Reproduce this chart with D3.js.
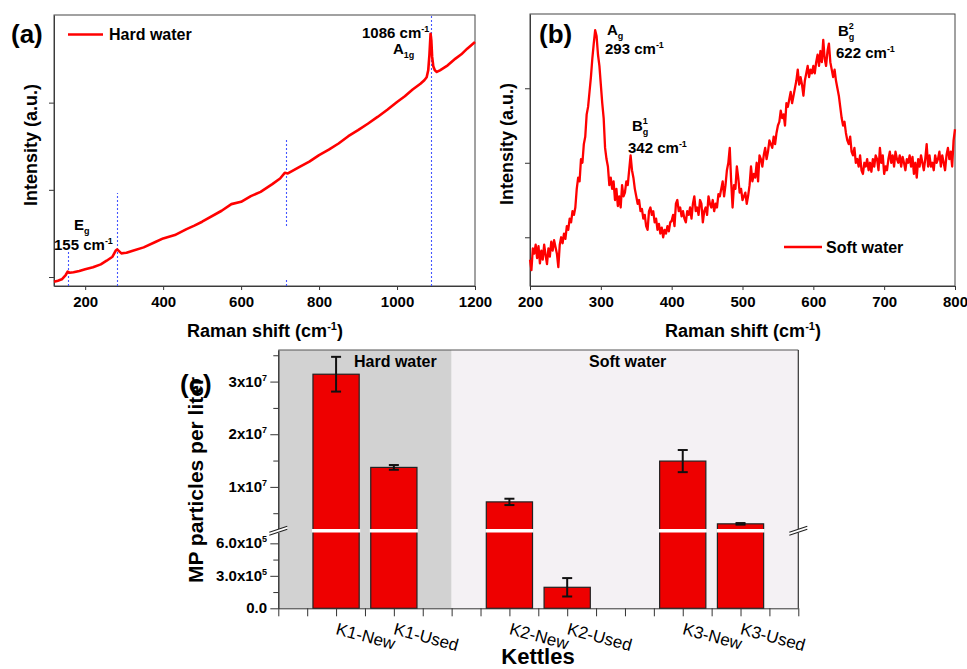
<!DOCTYPE html>
<html>
<head>
<meta charset="utf-8">
<script src="https://cdn.jsdelivr.net/npm/d3@7"></script>
<style>
body { margin: 0; background: #fff; }
svg { font-family: "Liberation Sans", Arial, sans-serif; font-weight: bold; }
</style>
</head>
<body>
<svg id="fig" width="967" height="669"></svg>
<script>
// ---- data: (a) hard water Raman spectrum
var shiftA = [120, 130, 140, 150, 155, 160, 170, 185, 200, 220, 240, 255, 270, 278, 282, 293, 300, 306, 320, 350, 380, 400, 430, 460, 480, 500, 550, 575, 600, 625, 650, 680, 700, 712, 720, 750, 775, 800, 825, 850, 875, 900, 925, 950, 975, 1000, 1020, 1040, 1060, 1070, 1076, 1080, 1083, 1086, 1088, 1090, 1093, 1097, 1102, 1110, 1130, 1150, 1165, 1180, 1200];
var intensityA = [946, 958, 974, 1023, 1061, 1049, 1054, 1069, 1088, 1111, 1145, 1187, 1233, 1301, 1317, 1271, 1275, 1278, 1298, 1340, 1401, 1443, 1481, 1550, 1590, 1634, 1760, 1836, 1863, 1928, 1977, 2065, 2130, 2195, 2188, 2263, 2323, 2398, 2460, 2531, 2615, 2684, 2758, 2836, 2919, 3008, 3073, 3150, 3216, 3257, 3291, 3371, 3543, 3790, 3713, 3527, 3417, 3371, 3352, 3371, 3428, 3505, 3554, 3619, 3695];
var ticksA = [200, 400, 600, 800, 1000, 1200];
// dotted marker segments in (a)
var markShift = [156, 282, 714, 714, 1086];
var markLow = [897, 897, 1585, 897, 897];
var markHigh = [1310, 1964, 2583, 990, 4005];

// ---- data: (b) soft water Raman spectrum
var shiftB = [200, 202, 204, 206, 208, 210, 212, 214, 216, 218, 220, 222, 224, 226, 228, 230, 232, 234, 236, 238,
  240, 242, 244, 246, 248, 250, 252, 254, 256, 258, 260, 262, 264, 266, 268, 270, 272, 274, 276, 278,
  280, 282, 284, 286, 288, 290, 292, 294, 296, 298, 300, 302, 304, 306, 308, 310, 312, 314, 316, 318,
  320, 322, 324, 326, 328, 330, 332, 334, 336, 338, 340, 342, 344, 346, 348, 350, 352, 354, 356, 358,
  360, 362, 364, 366, 368, 370, 372, 374, 376, 378, 380, 382, 384, 386, 388, 390, 392, 394, 396, 398,
  400, 402, 404, 406, 408, 410, 412, 414, 416, 418, 420, 422, 424, 426, 428, 430, 432, 434, 436, 438,
  440, 442, 444, 446, 448, 450, 452, 454, 456, 458, 460, 462, 464, 466, 468, 470, 472, 474, 476, 478,
  480, 482, 484, 486, 488, 490, 492, 494, 496, 498, 500, 502, 504, 506, 508, 510, 512, 514, 516, 518,
  520, 522, 524, 526, 528, 530, 532, 534, 536, 538, 540, 542, 544, 546, 548, 550, 552, 554, 556, 558,
  560, 562, 564, 566, 568, 570, 572, 574, 576, 578, 580, 582, 584, 586, 588, 590, 592, 594, 596, 598,
  600, 602, 604, 606, 608, 610, 612, 614, 616, 618, 620, 622, 624, 626, 628, 630, 632, 634, 636, 638,
  640, 642, 644, 646, 648, 650, 652, 654, 656, 658, 660, 662, 664, 666, 668, 670, 672, 674, 676, 678,
  680, 682, 684, 686, 688, 690, 692, 694, 696, 698, 700, 702, 704, 706, 708, 710, 712, 714, 716, 718,
  720, 722, 724, 726, 728, 730, 732, 734, 736, 738, 740, 742, 744, 746, 748, 750, 752, 754, 756, 758,
  760, 762, 764, 766, 768, 770, 772, 774, 776, 778, 780, 782, 784, 786, 788, 790, 792, 794, 796, 798, 800];
var intensityB = [700, 560, 850, 780, 900, 720, 880, 650, 820, 700, 900, 760, 640, 850, 740, 940, 820, 960, 870, 780,
  600, 900, 1000, 920, 1050, 980, 1150, 1100, 1250, 1200, 1350, 1300, 1400, 1650, 1800, 1750, 2050, 2000, 2250, 2350,
  2650, 2750, 2950, 3150, 3400, 3600, 3780, 3700, 3450, 3300, 3050, 2800, 2600, 2200, 2050, 1950, 1700, 1800, 1650, 1750,
  1500, 1650, 1420, 1550, 1400, 1700, 1550, 1600, 1750, 1700, 1900, 2100, 1900, 1800, 1650, 1550, 1450, 1500, 1350, 1380,
  1250, 1300, 1150, 1100, 1350, 1400, 1300, 1350, 1200, 1250, 1100, 1180, 1050, 1130, 1000, 1100, 1050, 1150, 1080, 1200,
  1220, 1300, 1150, 1450, 1500, 1350, 1400, 1280, 1350, 1250, 1200, 1350, 1300, 1400, 1250, 1450, 1550, 1350, 1400, 1300,
  1500, 1450, 1200, 1350, 1400, 1300, 1550, 1450, 1400, 1500, 1350, 1450, 1400, 1580, 1550, 1650, 1750, 1550, 1700, 1900,
  2000, 2200, 1750, 1400, 1700, 1650, 1950, 1800, 1600, 1650, 1500, 1550, 1600, 1450, 1560, 1700, 1950, 1750, 1850, 1800,
  2000, 1750, 2100, 2050, 1950, 2100, 2200, 2050, 2150, 2300, 2250, 2200, 2350, 2250, 2400, 2500, 2550, 2700, 2600, 2650,
  2500, 2800, 2750, 2850, 2950, 2800, 2900, 3000, 3100, 3250, 3050, 3150, 3050, 2900, 3100, 3200, 3300, 3150, 3250, 3200,
  3300, 3200, 3350, 3450, 3300, 3500, 3350, 3650, 3400, 3300, 3500, 3600, 3350, 3250, 3150, 3250, 3100, 3000, 2900, 2750,
  2600, 2500, 2550, 2400, 2300, 2250, 2350, 2150, 2100, 2200, 2000, 2050, 1950, 2100, 1900, 1850, 2000, 1950, 2050, 1900,
  2000, 1880, 2050, 1950, 2100, 2050, 1900, 2200, 2000, 2100, 1850, 1950, 1900, 2050, 2150, 2000, 2100, 1950, 2150, 2050,
  2000, 2100, 1950, 2080, 2000, 1900, 2050, 2000, 2100, 1950, 2080, 1850, 2000, 1800, 2050, 1950, 2100, 2000, 1900, 2050,
  2250, 1950, 2100, 1950, 2000, 1900, 2100, 2000, 2050, 2150, 1950, 2100, 2000, 1900, 2100, 2200, 2050, 2150, 1950, 2300, 2450];
var ticksB = [200, 300, 400, 500, 600, 700, 800];

// ---- data: (c) MP particles per liter
var kettles = ["K1-New", "K1-Used", "K2-New", "K2-Used", "K3-New", "K3-Used"];
var kettlePos = [1, 2, 4, 5, 7, 8];
var mpMean = [3.14e7, 1.37e7, 7.15e6, 1.94e5, 1.49e7, 2.98e6];
var mpErr = [3.3e6, 4.5e5, 6.0e5, 8.5e4, 2.1e6, 1.5e5];
var waterGroups = ["Hard water", "Soft water"];
var groupStart = [0, 3];
var groupEnd = [3, 9];
var upperTicks = [1e7, 2e7, 3e7];
var upperMinor = [5e6, 1.5e7, 2.5e7, 3.5e7];
var upperTickText = ["1x10", "2x10", "3x10"];
var upperTickExp = ["7", "7", "7"];
var lowerTicks = [0, 3e5, 6e5];
var lowerMinor = [1.5e5, 4.5e5];
var lowerTickText = ["0.0", "3.0x10", "6.0x10"];
var lowerTickExp = ["", "5", "5"];

var svg = d3.select("#fig");

// text with super/subscripts: parts = [text, vertical offset, dx]
function rich(sel, x, y, parts, size, anchor) {
  var t = sel.append("text").attr("x", x).attr("y", y)
    .attr("font-size", size).attr("text-anchor", anchor || "start");
  var shift = 0;
  parts.forEach(function (p) {
    var s = p[1] || 0;
    var ts = t.append("tspan").text(p[0]).attr("dy", s - shift);
    if (s) ts.attr("font-size", Math.round(size * 0.62));
    if (p[2]) ts.attr("dx", p[2]);
    shift = s;
  });
  return t;
}

function styleAxis(g) {
  g.attr("font-family", null).attr("font-size", 15).attr("font-weight", "bold");
  g.selectAll("line,path").attr("stroke", "#333");
  g.selectAll("text").attr("fill", "#000");
}

// ================= panel (a)
var xA = d3.scaleLinear().domain([120, 1200]).range([54, 475]);
var yA = d3.scaleLinear().domain([897, 4005]).range([286, 15]);
var gA = svg.append("g");

gA.append("g").attr("transform", "translate(0,286)")
  .call(d3.axisBottom(xA).tickValues(ticksA).tickFormat(d3.format("d")).tickSize(4).tickPadding(6).tickSizeOuter(0))
  .call(styleAxis);
gA.append("g").attr("transform", "translate(54,0)")
  .call(d3.axisLeft(yA).tickValues([1000, 2000, 3000]).tickSize(5).tickFormat("").tickSizeOuter(0))
  .call(styleAxis);
gA.append("rect").attr("x", 54).attr("y", 15).attr("width", 421).attr("height", 271)
  .attr("fill", "none").attr("stroke", "#444");

gA.selectAll(".mark").data(markShift).enter().append("line")
  .attr("x1", function (d) { return Math.round(xA(d)) + 0.5; })
  .attr("x2", function (d) { return Math.round(xA(d)) + 0.5; })
  .attr("y1", function (d, i) { return yA(markLow[i]); })
  .attr("y2", function (d, i) { return yA(markHigh[i]); })
  .attr("stroke", "#4455ff").attr("stroke-width", 1.1).attr("stroke-dasharray", "2,2");

var lineA = d3.line()
  .x(function (d, i) { return xA(shiftA[i]); })
  .y(function (d) { return yA(d); });
gA.append("path").datum(intensityA).attr("d", lineA)
  .attr("fill", "none").attr("stroke", "#ff0000").attr("stroke-width", 2.6)
  .attr("stroke-linejoin", "round");

gA.append("text").attr("x", 11).attr("y", 43).attr("font-size", 26).text("(a)");
gA.append("line").attr("x1", 68).attr("x2", 103).attr("y1", 34.5).attr("y2", 34.5)
  .attr("stroke", "#ff0000").attr("stroke-width", 2.6);
gA.append("text").attr("x", 109).attr("y", 40).attr("font-size", 16).text("Hard water");

rich(gA, 362, 38, [["1086 cm"], ["-1", -6]], 15);
rich(gA, 393, 54, [["A"], ["1g", 4]], 15);
rich(gA, 74, 230, [["E"], ["g", 4]], 15);
rich(gA, 54, 250, [["155 cm"], ["-1", -6]], 15);

gA.append("text").attr("transform", "translate(37,145) rotate(-90)")
  .attr("text-anchor", "middle").attr("font-size", 18).text("Intensity (a.u.)");
rich(gA, 265, 337, [["Raman shift (cm"], ["-1", -7], [")", 0]], 18, "middle");

// ================= panel (b)
var xB = d3.scaleLinear().domain([200, 800]).range([530, 955]);
var yB = d3.scaleLinear().domain([346, 3997]).range([286, 14]);
var gB = svg.append("g");

gB.append("g").attr("transform", "translate(0,286)")
  .call(d3.axisBottom(xB).tickValues(ticksB).tickFormat(d3.format("d")).tickSize(4).tickPadding(6).tickSizeOuter(0))
  .call(styleAxis);
gB.append("g").attr("transform", "translate(530,0)")
  .call(d3.axisLeft(yB).tickValues([1000, 2000, 3000]).tickSize(5).tickFormat("").tickSizeOuter(0))
  .call(styleAxis);
gB.append("rect").attr("x", 530).attr("y", 14).attr("width", 425).attr("height", 272)
  .attr("fill", "none").attr("stroke", "#444");

var lineB = d3.line()
  .x(function (d, i) { return xB(shiftB[i]); })
  .y(function (d) { return yB(d); });
gB.append("path").datum(intensityB).attr("d", lineB)
  .attr("fill", "none").attr("stroke", "#ff0000").attr("stroke-width", 2.3)
  .attr("stroke-linejoin", "round");

gB.append("text").attr("x", 539).attr("y", 43).attr("font-size", 26).text("(b)");
rich(gB, 607, 35, [["A"], ["g", 4]], 15);
rich(gB, 605, 54, [["293 cm"], ["-1", -6]], 15);
rich(gB, 632, 131, [["B"], ["1", -7], ["g", 4, -5]], 15);
rich(gB, 628, 153, [["342 cm"], ["-1", -6]], 15);
rich(gB, 838, 36, [["B"], ["2", -7], ["g", 4, -5]], 15);
rich(gB, 836, 58, [["622 cm"], ["-1", -6]], 15);

gB.append("line").attr("x1", 784).attr("x2", 822).attr("y1", 247).attr("y2", 247)
  .attr("stroke", "#ff0000").attr("stroke-width", 2.6);
gB.append("text").attr("x", 826).attr("y", 252.5).attr("font-size", 16).text("Soft water");

gB.append("text").attr("transform", "translate(513,144) rotate(-90)")
  .attr("text-anchor", "middle").attr("font-size", 18).text("Intensity (a.u.)");
rich(gB, 743, 337, [["Raman shift (cm"], ["-1", -7], [")", 0]], 18, "middle");

// ================= panel (c)
var xC = d3.scaleLinear().domain([0, 9]).range([278.3, 798.3]);
var yLow = d3.scaleLinear().domain([0, 7e5]).range([608.3, 532.5]);
var yHigh = d3.scaleLinear().domain([2e6, 3.6e7]).range([529, 350]);
function yC(v) { return v <= 7e5 ? yLow(v) : yHigh(v); }
var gC = svg.append("g");

gC.selectAll(".grp").data(waterGroups).enter().append("rect")
  .attr("x", function (d, i) { return xC(groupStart[i]); })
  .attr("width", function (d, i) { return xC(groupEnd[i]) - xC(groupStart[i]); })
  .attr("y", 350).attr("height", 258.3)
  .attr("fill", function (d, i) { return i === 0 ? "#d2d2d2" : "#f4f1f4"; });

var barW = 0.8;
gC.selectAll(".bar").data(mpMean).enter().append("rect")
  .attr("x", function (d, i) { return xC(kettlePos[i] - barW / 2); })
  .attr("width", xC(barW) - xC(0))
  .attr("y", function (d) { return yC(d); })
  .attr("height", function (d) { return yLow(0) - yC(d); })
  .attr("fill", "#ee0000").attr("stroke", "#222").attr("stroke-width", 1.2);

// white gap where the axis is broken
gC.selectAll(".gap").data(mpMean.filter(function (d) { return d > 7e5; })).enter().append("rect")
  .attr("x", function (d) { return xC(kettlePos[mpMean.indexOf(d)] - barW / 2) - 1; })
  .attr("width", xC(barW) - xC(0) + 2)
  .attr("y", yHigh(2e6)).attr("height", yLow(7e5) - yHigh(2e6))
  .attr("fill", "#fff");

// error bars
var eb = gC.selectAll(".err").data(mpMean).enter().append("g")
  .attr("stroke", "#111").attr("stroke-width", 2);
eb.append("line")
  .attr("x1", function (d, i) { return xC(kettlePos[i]); })
  .attr("x2", function (d, i) { return xC(kettlePos[i]); })
  .attr("y1", function (d, i) { return yC(d - mpErr[i]); })
  .attr("y2", function (d, i) { return yC(d + mpErr[i]); });
[-1, 1].forEach(function (s) {
  eb.append("line")
    .attr("x1", function (d, i) { return xC(kettlePos[i]) - 5; })
    .attr("x2", function (d, i) { return xC(kettlePos[i]) + 5; })
    .attr("y1", function (d, i) { return yC(d + s * mpErr[i]); })
    .attr("y2", function (d, i) { return yC(d + s * mpErr[i]); });
});

// frame top and right
gC.append("line").attr("x1", 278.3).attr("x2", 798.3).attr("y1", 350).attr("y2", 350)
  .attr("stroke", "#555").attr("stroke-width", 1.2);
gC.append("line").attr("x1", 798.3).attr("x2", 798.3).attr("y1", 350).attr("y2", 529)
  .attr("stroke", "#333").attr("stroke-width", 1.2);
gC.append("line").attr("x1", 798.3).attr("x2", 798.3).attr("y1", 532.5).attr("y2", 608.3)
  .attr("stroke", "#333").attr("stroke-width", 1.2);

// axes
gC.append("g").attr("transform", "translate(0,608.3)")
  .call(d3.axisBottom(xC).tickValues(d3.range(0, 9.01, 0.5)).tickSize(8).tickFormat("").tickSizeOuter(0))
  .call(styleAxis);
gC.append("g").attr("transform", "translate(278.3,0)")
  .call(d3.axisLeft(yHigh).tickValues(upperTicks).tickSize(8).tickFormat("").tickSizeOuter(0))
  .call(styleAxis);
gC.append("g").attr("transform", "translate(278.3,0)")
  .call(d3.axisLeft(yHigh).tickValues(upperMinor).tickSize(5).tickFormat("").tickSizeOuter(0))
  .call(styleAxis);
gC.append("g").attr("transform", "translate(278.3,0)")
  .call(d3.axisLeft(yLow).tickValues(lowerTicks).tickSize(8).tickFormat("").tickSizeOuter(0))
  .call(styleAxis);
gC.append("g").attr("transform", "translate(278.3,0)")
  .call(d3.axisLeft(yLow).tickValues(lowerMinor).tickSize(5).tickFormat("").tickSizeOuter(0))
  .call(styleAxis);

upperTicks.forEach(function (v, i) {
  rich(gC, 267, yHigh(v) + 5, [[upperTickText[i]], [upperTickExp[i], -6]], 15, "end");
});
lowerTicks.forEach(function (v, i) {
  var parts = lowerTickExp[i] ? [[lowerTickText[i]], [lowerTickExp[i], -6]] : [[lowerTickText[i]]];
  rich(gC, 267, yLow(v) + 5, parts, 15, "end");
});

// break marks on both sides
[278.3, 798.3].forEach(function (bx) {
  var yb = (yHigh(2e6) + yLow(7e5)) / 2;
  gC.append("polygon")
    .attr("points", [[bx - 9, yb + 1.5], [bx + 9, yb - 4.5], [bx + 9, yb - 1.5], [bx - 9, yb + 4.5]].join(" "))
    .attr("fill", "#fff");
  [-1.5, 1.5].forEach(function (o) {
    gC.append("line").attr("x1", bx - 9).attr("y1", yb + 3 + o).attr("x2", bx + 9).attr("y2", yb - 3 + o)
      .attr("stroke", "#222").attr("stroke-width", 1.2);
  });
});

// category labels, tilted
gC.selectAll(".klab").data(kettles).enter().append("text")
  .attr("transform", function (d, i) { return "translate(" + (xC(kettlePos[i]) - 1) + ",634) rotate(15)"; })
  .attr("font-size", 17).attr("font-weight", "normal").text(function (d) { return d; });

gC.selectAll(".glab").data(waterGroups).enter().append("text")
  .attr("x", function (d, i) { return i === 0 ? 354 : 589; })
  .attr("y", 367).attr("font-size", 16).text(function (d) { return d; });

gC.append("text").attr("x", 538).attr("y", 664).attr("text-anchor", "middle")
  .attr("font-size", 22).text("Kettles");
gC.append("text").attr("transform", "translate(203,480) rotate(-90)")
  .attr("text-anchor", "middle").attr("font-size", 21).text("MP particles per liter");
gC.append("text").attr("x", 180).attr("y", 393).attr("font-size", 26).text("(c)");
</script>
</body>
</html>
